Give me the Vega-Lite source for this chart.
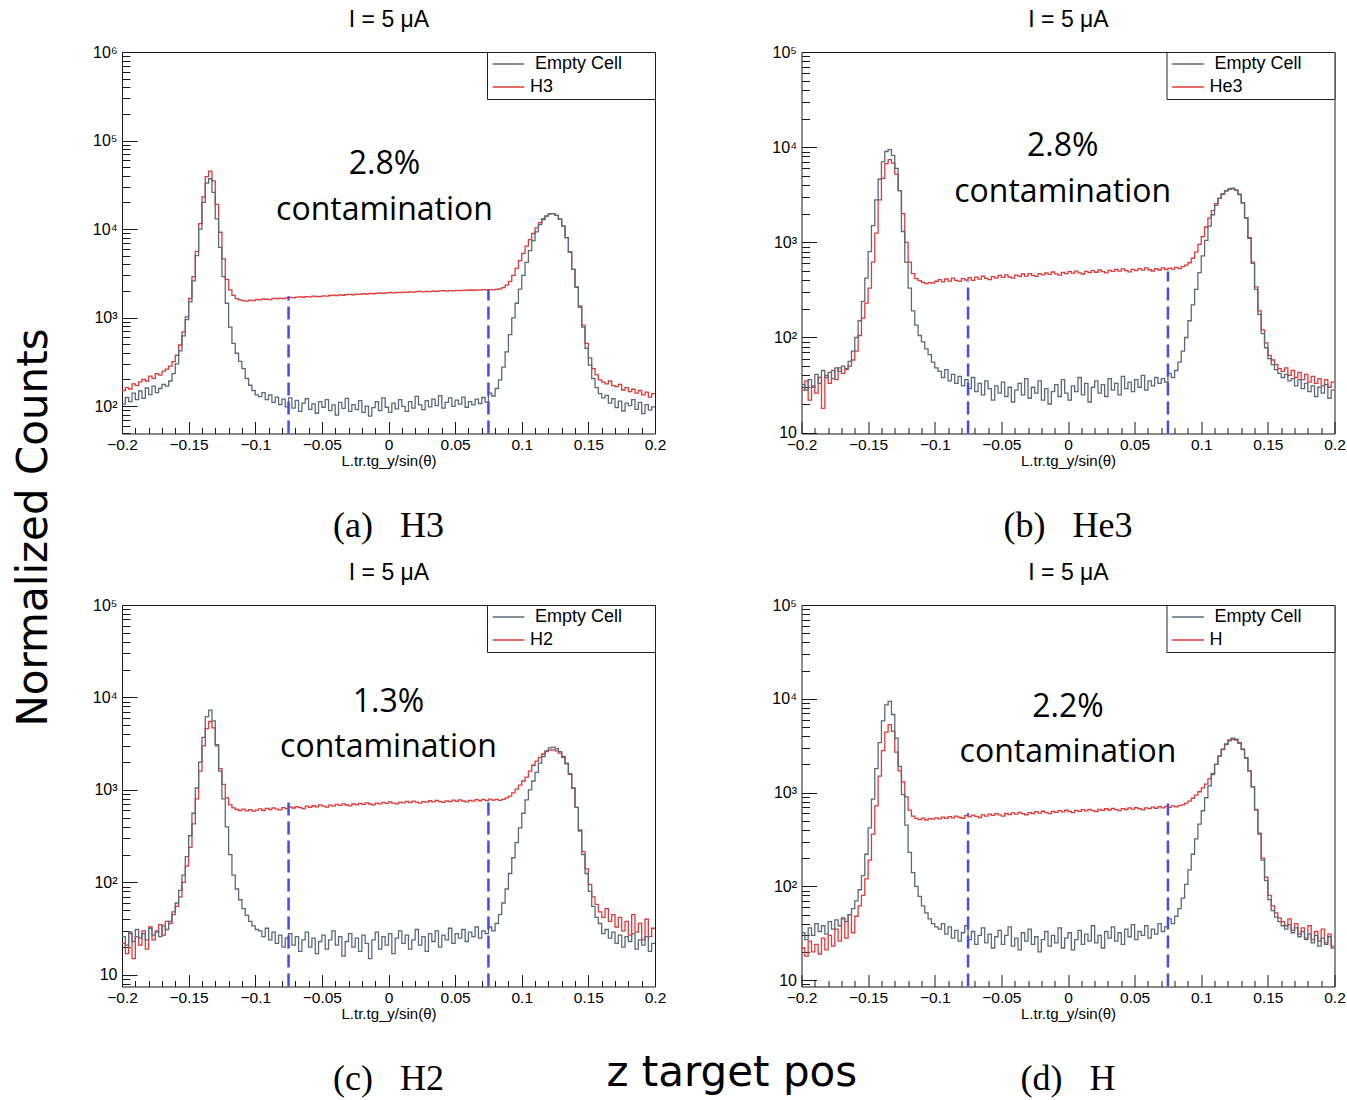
{
  "$schema": "https://vega.github.io/schema/vega-lite/v6.json",
  "background": "white",
  "padding": {"left": 12, "top": 7, "right": 0, "bottom": 0},
  "config": {
    "font": "Liberation Sans",
    "view": {"stroke": "#1a1a1a", "strokeWidth": 1},
    "axis": {"domain": false, "grid": false, "labelFont": "Liberation Sans", "titleFont": "Liberation Sans", "labelColor": "#000", "titleColor": "#000", "tickColor": "#1a1a1a", "tickWidth": 1, "titleFontWeight": "normal"},
    "title": {"fontWeight": "normal", "color": "#000"},
    "legend": {
      "orient": "top-right", "offset": 0, "padding": 2,
      "strokeColor": "#222", "strokeWidth": 1, "fillColor": "white",
      "symbolType": "stroke", "symbolSize": 1000, "symbolStrokeWidth": 1.3, "symbolOffset": 3,
      "labelFont": "Liberation Sans", "labelFontSize": 18, "labelColor": "#000", "labelOffset": 5,
      "rowPadding": 3, "clipHeight": 20
    }
  },
  "datasets": {
    "hist": [
      {"x":-0.2,"ae":105,"at":150,"be":32,"bt":28,"ce":26,"ct":22,"de":32,"dt":22},
      {"x":-0.1975,"ae":125,"at":162,"be":28,"bt":35,"ce":21,"ct":17,"de":27,"dt":18},
      {"x":-0.195,"ae":112,"at":156,"be":36,"bt":22,"ce":29,"ct":28,"de":36,"dt":26},
      {"x":-0.1925,"ae":140,"at":178,"be":30,"bt":31,"ce":23,"ct":15,"de":30,"dt":20},
      {"x":-0.19,"ae":118,"at":170,"be":41,"bt":26,"ce":31,"ct":26,"de":40,"dt":24},
      {"x":-0.1875,"ae":148,"at":188,"be":33,"bt":38,"ce":25,"ct":21,"de":33,"dt":19},
      {"x":-0.185,"ae":122,"at":200,"be":45,"bt":18,"ce":28,"ct":30,"de":38,"dt":28},
      {"x":-0.1825,"ae":160,"at":192,"be":38,"bt":40,"ce":24,"ct":19,"de":31,"dt":21},
      {"x":-0.18,"ae":135,"at":218,"be":43,"bt":33,"ce":32,"ct":33,"de":42,"dt":30},
      {"x":-0.1775,"ae":168,"at":206,"be":37,"bt":45,"ce":27,"ct":24,"de":35,"dt":23},
      {"x":-0.175,"ae":142,"at":232,"be":48,"bt":36,"ce":30,"ct":29,"de":44,"dt":35},
      {"x":-0.1725,"ae":158,"at":224,"be":44,"bt":48,"ce":26,"ct":35,"de":38,"dt":26},
      {"x":-0.17,"ae":176,"at":248,"be":50,"bt":42,"ce":34,"ct":27,"de":46,"dt":45},
      {"x":-0.1675,"ae":168,"at":262,"be":47,"bt":46,"ce":31,"ct":38,"de":42,"dt":28},
      {"x":-0.165,"ae":192,"at":282,"be":56,"bt":50,"ce":38,"ct":36,"de":50,"dt":50},
      {"x":-0.1625,"ae":232,"at":318,"be":72,"bt":58,"ce":48,"ct":45,"de":58,"dt":32},
      {"x":-0.16,"ae":300,"at":375,"be":100,"bt":72,"ce":60,"ct":55,"de":70,"dt":48},
      {"x":-0.1575,"ae":420,"at":490,"be":150,"bt":105,"ce":82,"ct":70,"de":92,"dt":62},
      {"x":-0.155,"ae":620,"at":690,"be":240,"bt":160,"ce":120,"ct":100,"de":130,"dt":80},
      {"x":-0.1525,"ae":950,"at":1020,"be":420,"bt":230,"ce":190,"ct":150,"de":220,"dt":120},
      {"x":-0.15,"ae":1500,"at":1650,"be":800,"bt":330,"ce":320,"ct":240,"de":420,"dt":190},
      {"x":-0.1475,"ae":2600,"at":2900,"be":1500,"bt":620,"ce":560,"ct":430,"de":850,"dt":360},
      {"x":-0.145,"ae":5000,"at":5600,"be":2800,"bt":1250,"ce":1050,"ct":800,"de":1800,"dt":720},
      {"x":-0.1425,"ae":10000,"at":11500,"be":4600,"bt":2800,"ce":2000,"ct":1600,"de":3400,"dt":1500},
      {"x":-0.14,"ae":20000,"at":23000,"be":7000,"bt":4700,"ce":3700,"ct":3000,"de":5800,"dt":2800},
      {"x":-0.1375,"ae":33000,"at":39000,"be":9000,"bt":6700,"ce":6200,"ct":4600,"de":8600,"dt":4400},
      {"x":-0.135,"ae":37000,"at":45000,"be":9400,"bt":7400,"ce":7300,"ct":5500,"de":9400,"dt":5300},
      {"x":-0.1325,"ae":26000,"at":35000,"be":8200,"bt":6800,"ce":5600,"ct":4700,"de":6800,"dt":4500},
      {"x":-0.13,"ae":13000,"at":19000,"be":6000,"bt":5200,"ce":3100,"ct":3000,"de":3800,"dt":2700},
      {"x":-0.1275,"ae":6200,"at":9200,"be":3500,"bt":3500,"ce":1600,"ct":1700,"de":1900,"dt":1700},
      {"x":-0.125,"ae":2900,"at":4600,"be":1300,"bt":2000,"ce":800,"ct":1150,"de":950,"dt":1300},
      {"x":-0.1225,"ae":1450,"at":2700,"be":620,"bt":1000,"ce":400,"ct":820,"de":450,"dt":900},
      {"x":-0.12,"ae":780,"at":2050,"be":330,"bt":620,"ce":200,"ct":690,"de":230,"dt":650},
      {"x":-0.1175,"ae":510,"at":1780,"be":190,"bt":470,"ce":120,"ct":640,"de":140,"dt":560},
      {"x":-0.115,"ae":395,"at":1640,"be":135,"bt":415,"ce":85,"ct":615,"de":100,"dt":530},
      {"x":-0.1125,"ae":320,"at":1580,"be":105,"bt":395,"ce":65,"ct":600,"de":78,"dt":515},
      {"x":-0.11,"ae":265,"at":1545,"be":90,"bt":380,"ce":52,"ct":620,"de":62,"dt":535},
      {"x":-0.1075,"ae":205,"at":1530,"be":76,"bt":368,"ce":44,"ct":595,"de":52,"dt":510},
      {"x":-0.105,"ae":172,"at":1575,"be":66,"bt":378,"ce":38,"ct":612,"de":45,"dt":528},
      {"x":-0.1025,"ae":150,"at":1555,"be":55,"bt":372,"ce":34,"ct":590,"de":40,"dt":520},
      {"x":-0.1,"ae":134,"at":1600,"be":48,"bt":390,"ce":31,"ct":605,"de":37,"dt":538},
      {"x":-0.0975,"ae":128,"at":1588,"be":44,"bt":405,"ce":30,"ct":625,"de":35,"dt":525},
      {"x":-0.095,"ae":142,"at":1622,"be":38,"bt":385,"ce":26,"ct":600,"de":40,"dt":548},
      {"x":-0.0925,"ae":118,"at":1610,"be":46,"bt":412,"ce":32,"ct":632,"de":31,"dt":530},
      {"x":-0.09,"ae":134,"at":1598,"be":35,"bt":392,"ce":24,"ct":615,"de":37,"dt":555},
      {"x":-0.0875,"ae":110,"at":1645,"be":41,"bt":420,"ce":29,"ct":640,"de":28,"dt":538},
      {"x":-0.085,"ae":126,"at":1630,"be":33,"bt":398,"ce":22,"ct":622,"de":34,"dt":562},
      {"x":-0.0825,"ae":104,"at":1662,"be":39,"bt":388,"ce":27,"ct":608,"de":26,"dt":545},
      {"x":-0.08,"ae":120,"at":1640,"be":31,"bt":415,"ce":20,"ct":645,"de":32,"dt":532},
      {"x":-0.0775,"ae":98,"at":1668,"be":36,"bt":402,"ce":25,"ct":630,"de":38,"dt":568},
      {"x":-0.075,"ae":124,"at":1690,"be":29,"bt":425,"ce":28,"ct":655,"de":27,"dt":550},
      {"x":-0.0725,"ae":95,"at":1672,"be":38,"bt":398,"ce":21,"ct":638,"de":33,"dt":575},
      {"x":-0.07,"ae":116,"at":1700,"be":27,"bt":430,"ce":26,"ct":662,"de":24,"dt":558},
      {"x":-0.0675,"ae":87,"at":1712,"be":33,"bt":410,"ce":18,"ct":645,"de":30,"dt":542},
      {"x":-0.065,"ae":108,"at":1695,"be":25,"bt":440,"ce":24,"ct":630,"de":36,"dt":578},
      {"x":-0.0625,"ae":121,"at":1728,"be":35,"bt":418,"ce":29,"ct":668,"de":25,"dt":562},
      {"x":-0.06,"ae":92,"at":1716,"be":29,"bt":405,"ce":20,"ct":650,"de":31,"dt":590},
      {"x":-0.0575,"ae":106,"at":1745,"be":22,"bt":436,"ce":25,"ct":675,"de":22,"dt":570},
      {"x":-0.055,"ae":83,"at":1730,"be":31,"bt":420,"ce":17,"ct":658,"de":29,"dt":596},
      {"x":-0.0525,"ae":112,"at":1722,"be":26,"bt":448,"ce":23,"ct":690,"de":34,"dt":578},
      {"x":-0.05,"ae":97,"at":1760,"be":34,"bt":428,"ce":27,"ct":668,"de":24,"dt":562},
      {"x":-0.0475,"ae":118,"at":1748,"be":24,"bt":455,"ce":19,"ct":652,"de":30,"dt":598},
      {"x":-0.045,"ae":89,"at":1775,"be":30,"bt":432,"ce":24,"ct":685,"de":37,"dt":582},
      {"x":-0.0425,"ae":103,"at":1790,"be":21,"bt":420,"ce":30,"ct":670,"de":23,"dt":608},
      {"x":-0.04,"ae":79,"at":1770,"be":28,"bt":452,"ce":21,"ct":700,"de":28,"dt":588},
      {"x":-0.0375,"ae":110,"at":1802,"be":33,"bt":438,"ce":26,"ct":680,"de":21,"dt":615},
      {"x":-0.035,"ae":94,"at":1786,"be":25,"bt":465,"ce":16,"ct":708,"de":32,"dt":595},
      {"x":-0.0325,"ae":122,"at":1815,"be":37,"bt":442,"ce":23,"ct":688,"de":26,"dt":580},
      {"x":-0.03,"ae":87,"at":1830,"be":23,"bt":470,"ce":28,"ct":672,"de":35,"dt":612},
      {"x":-0.0275,"ae":104,"at":1808,"be":30,"bt":450,"ce":20,"ct":705,"de":24,"dt":598},
      {"x":-0.025,"ae":91,"at":1842,"be":26,"bt":438,"ce":25,"ct":690,"de":29,"dt":625},
      {"x":-0.0225,"ae":115,"at":1826,"be":35,"bt":468,"ce":18,"ct":718,"de":20,"dt":605},
      {"x":-0.02,"ae":85,"at":1860,"be":22,"bt":455,"ce":27,"ct":698,"de":27,"dt":632},
      {"x":-0.0175,"ae":100,"at":1845,"be":29,"bt":478,"ce":22,"ct":725,"de":33,"dt":612},
      {"x":-0.015,"ae":77,"at":1872,"be":20,"bt":460,"ce":15,"ct":705,"de":23,"dt":596},
      {"x":-0.0125,"ae":96,"at":1858,"be":27,"bt":488,"ce":24,"ct":690,"de":30,"dt":628},
      {"x":-0.01,"ae":112,"at":1880,"be":32,"bt":466,"ce":29,"ct":722,"de":25,"dt":615},
      {"x":-0.0075,"ae":89,"at":1898,"be":24,"bt":452,"ce":19,"ct":708,"de":36,"dt":642},
      {"x":-0.005,"ae":124,"at":1875,"be":36,"bt":482,"ce":26,"ct":735,"de":22,"dt":622},
      {"x":-0.0025,"ae":97,"at":1905,"be":26,"bt":470,"ce":21,"ct":715,"de":28,"dt":648},
      {"x":0,"ae":85,"at":1918,"be":22,"bt":492,"ce":28,"ct":742,"de":32,"dt":628},
      {"x":0.0025,"ae":108,"at":1896,"be":31,"bt":475,"ce":17,"ct":722,"de":21,"dt":612},
      {"x":0.005,"ae":93,"at":1925,"be":27,"bt":498,"ce":25,"ct":708,"de":27,"dt":645},
      {"x":0.0075,"ae":118,"at":1912,"be":38,"bt":478,"ce":30,"ct":738,"de":34,"dt":630},
      {"x":0.01,"ae":99,"at":1940,"be":25,"bt":465,"ce":22,"ct":725,"de":24,"dt":658},
      {"x":0.0125,"ae":87,"at":1928,"be":33,"bt":495,"ce":27,"ct":752,"de":31,"dt":638},
      {"x":0.015,"ae":112,"at":1950,"be":21,"bt":480,"ce":19,"ct":730,"de":26,"dt":662},
      {"x":0.0175,"ae":95,"at":1935,"be":30,"bt":505,"ce":24,"ct":758,"de":38,"dt":642},
      {"x":0.02,"ae":129,"at":1962,"be":35,"bt":485,"ce":31,"ct":738,"de":25,"dt":628},
      {"x":0.0225,"ae":103,"at":1975,"be":26,"bt":512,"ce":21,"ct":722,"de":30,"dt":660},
      {"x":0.025,"ae":91,"at":1952,"be":32,"bt":492,"ce":26,"ct":750,"de":22,"dt":645},
      {"x":0.0275,"ae":115,"at":1980,"be":24,"bt":478,"ce":18,"ct":738,"de":33,"dt":672},
      {"x":0.03,"ae":98,"at":1968,"be":37,"bt":508,"ce":28,"ct":765,"de":28,"dt":652},
      {"x":0.0325,"ae":120,"at":1992,"be":28,"bt":495,"ce":23,"ct":742,"de":37,"dt":678},
      {"x":0.035,"ae":101,"at":1978,"be":33,"bt":518,"ce":30,"ct":770,"de":26,"dt":658},
      {"x":0.0375,"ae":131,"at":2000,"be":25,"bt":498,"ce":20,"ct":750,"de":32,"dt":642},
      {"x":0.04,"ae":95,"at":2012,"be":39,"bt":525,"ce":27,"ct":735,"de":24,"dt":675},
      {"x":0.0425,"ae":110,"at":1990,"be":29,"bt":505,"ce":24,"ct":762,"de":35,"dt":660},
      {"x":0.045,"ae":124,"at":2018,"be":34,"bt":490,"ce":32,"ct":748,"de":29,"dt":688},
      {"x":0.0475,"ae":99,"at":2005,"be":27,"bt":520,"ce":22,"ct":775,"de":39,"dt":665},
      {"x":0.05,"ae":117,"at":2030,"be":36,"bt":505,"ce":28,"ct":755,"de":27,"dt":692},
      {"x":0.0525,"ae":105,"at":2015,"be":30,"bt":530,"ce":25,"ct":780,"de":33,"dt":672},
      {"x":0.055,"ae":126,"at":2040,"be":40,"bt":510,"ce":31,"ct":760,"de":30,"dt":655},
      {"x":0.0575,"ae":97,"at":2026,"be":28,"bt":538,"ce":23,"ct":745,"de":38,"dt":688},
      {"x":0.06,"ae":112,"at":2048,"be":35,"bt":515,"ce":29,"ct":772,"de":28,"dt":675},
      {"x":0.0625,"ae":103,"at":2035,"be":31,"bt":500,"ce":26,"ct":758,"de":35,"dt":700},
      {"x":0.065,"ae":120,"at":2058,"be":38,"bt":528,"ce":33,"ct":785,"de":31,"dt":680},
      {"x":0.0675,"ae":107,"at":2042,"be":33,"bt":512,"ce":25,"ct":765,"de":40,"dt":708},
      {"x":0.07,"ae":125,"at":2066,"be":37,"bt":540,"ce":30,"ct":790,"de":33,"dt":688},
      {"x":0.0725,"ae":111,"at":2050,"be":34,"bt":518,"ce":28,"ct":768,"de":37,"dt":712},
      {"x":0.075,"ae":140,"at":2072,"be":42,"bt":535,"ce":33,"ct":795,"de":45,"dt":695},
      {"x":0.0775,"ae":130,"at":2058,"be":38,"bt":522,"ce":30,"ct":775,"de":40,"dt":720},
      {"x":0.08,"ae":158,"at":2085,"be":45,"bt":545,"ce":36,"ct":790,"de":48,"dt":702},
      {"x":0.0825,"ae":198,"at":2110,"be":55,"bt":530,"ce":45,"ct":770,"de":58,"dt":725},
      {"x":0.085,"ae":275,"at":2180,"be":72,"bt":555,"ce":60,"ct":790,"de":75,"dt":740},
      {"x":0.0875,"ae":410,"at":2320,"be":100,"bt":575,"ce":85,"ct":820,"de":105,"dt":770},
      {"x":0.09,"ae":640,"at":2560,"be":150,"bt":610,"ce":125,"ct":860,"de":150,"dt":810},
      {"x":0.0925,"ae":990,"at":3000,"be":220,"bt":680,"ce":185,"ct":930,"de":220,"dt":870},
      {"x":0.095,"ae":1450,"at":3600,"be":320,"bt":790,"ce":270,"ct":1020,"de":320,"dt":940},
      {"x":0.0975,"ae":2100,"at":4400,"be":480,"bt":950,"ce":390,"ct":1130,"de":460,"dt":1020},
      {"x":0.1,"ae":3000,"at":5300,"be":720,"bt":1150,"ce":560,"ct":1250,"de":640,"dt":1120},
      {"x":0.1025,"ae":4200,"at":6400,"be":1050,"bt":1450,"ce":780,"ct":1380,"de":880,"dt":1230},
      {"x":0.105,"ae":5700,"at":7600,"be":1480,"bt":1800,"ce":1000,"ct":1600,"de":1180,"dt":1400},
      {"x":0.1075,"ae":7400,"at":8900,"be":1950,"bt":2150,"ce":1250,"ct":1850,"de":1550,"dt":1600},
      {"x":0.11,"ae":9300,"at":10300,"be":2450,"bt":2550,"ce":1550,"ct":2050,"de":2000,"dt":2000},
      {"x":0.1125,"ae":11200,"at":11800,"be":2900,"bt":2900,"ce":1950,"ct":2250,"de":2450,"dt":2450},
      {"x":0.115,"ae":12800,"at":13100,"be":3250,"bt":3200,"ce":2300,"ct":2450,"de":2900,"dt":2880},
      {"x":0.1175,"ae":14000,"at":14100,"be":3500,"bt":3450,"ce":2650,"ct":2600,"de":3300,"dt":3250},
      {"x":0.12,"ae":14800,"at":14800,"be":3650,"bt":3600,"ce":2850,"ct":2700,"de":3650,"dt":3550},
      {"x":0.1225,"ae":14900,"at":14900,"be":3700,"bt":3650,"ce":2900,"ct":2720,"de":3800,"dt":3700},
      {"x":0.125,"ae":14300,"at":14300,"be":3550,"bt":3520,"ce":2800,"ct":2650,"de":3700,"dt":3620},
      {"x":0.1275,"ae":12900,"at":12900,"be":3200,"bt":3180,"ce":2600,"ct":2500,"de":3400,"dt":3350},
      {"x":0.13,"ae":10800,"at":10800,"be":2600,"bt":2600,"ce":2300,"ct":2250,"de":2900,"dt":2880},
      {"x":0.1325,"ae":8000,"at":8000,"be":1800,"bt":1820,"ce":1950,"ct":1920,"de":2350,"dt":2330},
      {"x":0.135,"ae":5500,"at":5500,"be":1100,"bt":1120,"ce":1500,"ct":1480,"de":1700,"dt":1700},
      {"x":0.1375,"ae":3500,"at":3500,"be":600,"bt":620,"ce":1050,"ct":1040,"de":1150,"dt":1150},
      {"x":0.14,"ae":2200,"at":2200,"be":320,"bt":340,"ce":650,"ct":650,"de":650,"dt":660},
      {"x":0.1425,"ae":1300,"at":1350,"be":175,"bt":190,"ce":360,"ct":370,"de":360,"dt":370},
      {"x":0.145,"ae":780,"at":820,"be":110,"bt":120,"ce":200,"ct":215,"de":190,"dt":200},
      {"x":0.1475,"ae":450,"at":510,"be":78,"bt":88,"ce":125,"ct":140,"de":115,"dt":125},
      {"x":0.15,"ae":290,"at":350,"be":60,"bt":65,"ce":80,"ct":95,"de":72,"dt":80},
      {"x":0.1525,"ae":205,"at":265,"be":52,"bt":58,"ce":55,"ct":70,"de":55,"dt":62},
      {"x":0.155,"ae":162,"at":225,"be":46,"bt":52,"ce":42,"ct":58,"de":47,"dt":52},
      {"x":0.1575,"ae":138,"at":198,"be":42,"bt":47,"ce":36,"ct":48,"de":42,"dt":46},
      {"x":0.16,"ae":124,"at":186,"be":38,"bt":44,"ce":28,"ct":42,"de":38,"dt":42},
      {"x":0.1625,"ae":132,"at":178,"be":41,"bt":48,"ce":31,"ct":52,"de":35,"dt":38},
      {"x":0.165,"ae":108,"at":192,"be":35,"bt":40,"ce":25,"ct":38,"de":39,"dt":45},
      {"x":0.1675,"ae":121,"at":170,"be":37,"bt":45,"ce":29,"ct":45,"de":32,"dt":34},
      {"x":0.17,"ae":96,"at":166,"be":31,"bt":38,"ce":22,"ct":33,"de":36,"dt":40},
      {"x":0.1725,"ae":114,"at":176,"be":36,"bt":43,"ce":27,"ct":42,"de":29,"dt":31},
      {"x":0.175,"ae":88,"at":152,"be":29,"bt":36,"ce":20,"ct":30,"de":33,"dt":36},
      {"x":0.1775,"ae":108,"at":162,"be":33,"bt":41,"ce":26,"ct":38,"de":27,"dt":28},
      {"x":0.18,"ae":101,"at":146,"be":27,"bt":34,"ce":23,"ct":27,"de":31,"dt":38},
      {"x":0.1825,"ae":118,"at":155,"be":31,"bt":39,"ce":28,"ct":45,"de":25,"dt":27},
      {"x":0.185,"ae":92,"at":140,"be":24,"bt":33,"ce":19,"ct":29,"de":30,"dt":33},
      {"x":0.1875,"ae":110,"at":150,"be":30,"bt":37,"ce":24,"ct":36,"de":23,"dt":26},
      {"x":0.19,"ae":82,"at":134,"be":26,"bt":31,"ce":21,"ct":24,"de":28,"dt":35},
      {"x":0.1925,"ae":104,"at":144,"be":32,"bt":36,"ce":26,"ct":40,"de":24,"dt":25},
      {"x":0.195,"ae":90,"at":126,"be":23,"bt":30,"ce":18,"ct":26,"de":29,"dt":31},
      {"x":0.1975,"ae":98,"at":138,"be":28,"bt":34,"ce":22,"ct":32,"de":22,"dt":23},
      {"x":0.2,"ae":98,"at":138,"be":28,"bt":34,"ce":22,"ct":32,"de":22,"dt":23}
    ],
    "notes": [
      {"p":"a","x":-0.003,"y":55000,"label":"2.8%"},
      {"p":"a","x":-0.003,"y":16300,"label":"contamination"},
      {"p":"b","x":-0.004,"y":10300,"label":"2.8%"},
      {"p":"b","x":-0.004,"y":3360,"label":"contamination"},
      {"p":"c","x":0.0,"y":8840,"label":"1.3%"},
      {"p":"c","x":0.0,"y":2900,"label":"contamination"},
      {"p":"d","x":0.0,"y":8220,"label":"2.2%"},
      {"p":"d","x":0.0,"y":2730,"label":"contamination"}
    ],
    "cuts": [
      {"p":"a","x":-0.075,"lo":49,"hi":1740},
      {"p":"a","x":0.075,"lo":49,"hi":2090},
      {"p":"b","x":-0.075,"lo":9.8,"hi":395},
      {"p":"b","x":0.075,"lo":9.8,"hi":495},
      {"p":"c","x":-0.075,"lo":7.5,"hi":820},
      {"p":"c","x":0.075,"lo":7.5,"hi":830},
      {"p":"d","x":-0.075,"lo":8.55,"hi":600},
      {"p":"d","x":0.075,"lo":8.55,"hi":764}
    ]
  },
  "title": {"text": "Normalized Counts", "orient": "left", "anchor": "middle", "font": "DejaVu Sans", "fontSize": 42, "fontWeight": "normal", "offset": 36, "dx": 25},
  "vconcat": [
    {
      "title": {"text": "z target pos", "orient": "bottom", "anchor": "middle", "font": "DejaVu Sans", "fontSize": 42, "fontWeight": "normal", "offset": -45, "dx": 13},
      "columns": 2,
      "spacing": {"row": 171, "column": 146.5},
      "bounds": "flush",
      "resolve": {"scale": {"color": "independent"}, "legend": {"color": "independent"}},
      "concat": [
        {
          "width": 533, "height": 381.5,
          "title": {"text": "(a)\u00a0\u00a0\u00a0H3", "orient": "bottom", "anchor": "middle", "frame": "group", "font": "Liberation Serif", "fontSize": 36, "offset": 41},
          "resolve": {"axis": {"x": "independent"}},
          "layer": [
            {
              "data": {"name": "hist"},
              "mark": {"type": "line", "interpolate": "step-after", "strokeWidth": 1.3, "clip": true},
              "encoding": {
                "x": {"field": "x", "type": "quantitative", "scale": {"domain": [-0.2, 0.2], "nice": false, "zero": false},
                  "axis": {"orient": "bottom", "values": [-0.2,-0.19,-0.18,-0.17,-0.16,-0.15,-0.14,-0.13,-0.12,-0.11,-0.1,-0.09,-0.08,-0.07,-0.06,-0.05,-0.04,-0.03,-0.02,-0.01,0,0.01,0.02,0.03,0.04,0.05,0.06,0.07,0.08,0.09,0.1,0.11,0.12,0.13,0.14,0.15,0.16,0.17,0.18,0.19,0.2],
                    "labelExpr": "abs(datum.value*20-round(datum.value*20))<0.001 ? format(datum.value,'~g') : ''",
                    "tickSize": {"condition": {"test": "abs(datum.value*20-round(datum.value*20))<0.001", "value": -12}, "value": -6},
                    "labelPadding": 16, "labelFontSize": 15.5, "labelOverlap": false, "labelFlush": false, "labelBound": false,
                    "title": "L.tr.tg_y/sin(θ)", "titleFontSize": 15, "titlePadding": -6}},
                "y": {"field": "at", "type": "quantitative", "scale": {"type": "log", "domain": [49, 1000000], "nice": false},
                  "axis": {"values": [50,60,70,80,90,100,200,300,400,500,600,700,800,900,1000,2000,3000,4000,5000,6000,7000,8000,9000,10000,20000,30000,40000,50000,60000,70000,80000,90000,100000,200000,300000,400000,500000,600000,700000,800000,900000,1000000],
                    "labelExpr": "datum.value==10?'10':datum.value==100?'10²':datum.value==1000?'10³':datum.value==10000?'10⁴':datum.value==100000?'10⁵':datum.value==1000000?'10⁶':''",
                    "tickSize": {"condition": {"test": "datum.value==10||datum.value==100||datum.value==1000||datum.value==10000||datum.value==100000||datum.value==1000000", "value": -15}, "value": -8},
                    "labelPadding": 20, "labelFontSize": 16, "labelOverlap": false, "labelFlush": false, "labelBound": false, "title": null}},
                "color": {"datum": "H3", "scale": {"domain": ["Empty Cell", "H3"], "range": ["#5b6a7a", "#e03a3a"]},
                  "legend": {"title": null, "labelExpr": "datum.label == 'Empty Cell' ? '\u200b\u00a0Empty Cell\u00a0\u00a0\u00a0\u00a0\u00a0\u00a0\u200b' : datum.label"}}
              }
            },
            {
              "data": {"name": "hist"},
              "mark": {"type": "line", "interpolate": "step-after", "strokeWidth": 1.3, "clip": true, "color": "#5b6a7a"},
              "encoding": {
                "x": {"field": "x", "type": "quantitative", "axis": null},
                "y": {"field": "ae", "type": "quantitative"}
              }
            },
            {
              "data": {"name": "cuts"},
              "transform": [{"filter": "datum.p == 'a'"}],
              "mark": {"type": "rule", "color": "#4a4ae6", "strokeWidth": 2.5, "strokeDash": [13, 6]},
              "encoding": {
                "x": {"field": "x", "type": "quantitative", "axis": null},
                "y": {"field": "lo", "type": "quantitative"},
                "y2": {"field": "hi"}
              }
            },
            {
              "data": {"name": "notes"},
              "transform": [{"filter": "datum.p == 'a'"}],
              "mark": {"type": "text", "font": "Open Sans", "fontSize": 32, "color": "#000", "align": "center", "baseline": "middle"},
              "encoding": {
                "x": {"field": "x", "type": "quantitative", "axis": {"orient": "top", "title": "I = 5 μA", "labels": false, "ticks": false, "domain": false, "titleFontSize": 23, "titlePadding": 21}},
                "y": {"field": "y", "type": "quantitative"},
                "text": {"field": "label"}
              }
            }
          ]
        },
        {
          "width": 533, "height": 381.5,
          "title": {"text": "(b)\u00a0\u00a0\u00a0He3", "orient": "bottom", "anchor": "middle", "frame": "group", "font": "Liberation Serif", "fontSize": 36, "offset": 41},
          "resolve": {"axis": {"x": "independent"}},
          "layer": [
            {
              "data": {"name": "hist"},
              "mark": {"type": "line", "interpolate": "step-after", "strokeWidth": 1.3, "clip": true},
              "encoding": {
                "x": {"field": "x", "type": "quantitative", "scale": {"domain": [-0.2, 0.2], "nice": false, "zero": false},
                  "axis": {"orient": "bottom", "values": [-0.2,-0.19,-0.18,-0.17,-0.16,-0.15,-0.14,-0.13,-0.12,-0.11,-0.1,-0.09,-0.08,-0.07,-0.06,-0.05,-0.04,-0.03,-0.02,-0.01,0,0.01,0.02,0.03,0.04,0.05,0.06,0.07,0.08,0.09,0.1,0.11,0.12,0.13,0.14,0.15,0.16,0.17,0.18,0.19,0.2],
                    "labelExpr": "abs(datum.value*20-round(datum.value*20))<0.001 ? format(datum.value,'~g') : ''",
                    "tickSize": {"condition": {"test": "abs(datum.value*20-round(datum.value*20))<0.001", "value": -12}, "value": -6},
                    "labelPadding": 16, "labelFontSize": 15.5, "labelOverlap": false, "labelFlush": false, "labelBound": false,
                    "title": "L.tr.tg_y/sin(θ)", "titleFontSize": 15, "titlePadding": -6}},
                "y": {"field": "bt", "type": "quantitative", "scale": {"type": "log", "domain": [9.8, 100000], "nice": false},
                  "axis": {"values": [10,20,30,40,50,60,70,80,90,100,200,300,400,500,600,700,800,900,1000,2000,3000,4000,5000,6000,7000,8000,9000,10000,20000,30000,40000,50000,60000,70000,80000,90000,100000],
                    "labelExpr": "datum.value==10?'10':datum.value==100?'10²':datum.value==1000?'10³':datum.value==10000?'10⁴':datum.value==100000?'10⁵':datum.value==1000000?'10⁶':''",
                    "tickSize": {"condition": {"test": "datum.value==10||datum.value==100||datum.value==1000||datum.value==10000||datum.value==100000||datum.value==1000000", "value": -15}, "value": -8},
                    "labelPadding": 20, "labelFontSize": 16, "labelOverlap": false, "labelFlush": false, "labelBound": false, "title": null}},
                "color": {"datum": "He3", "scale": {"domain": ["Empty Cell", "He3"], "range": ["#5b6a7a", "#e03a3a"]},
                  "legend": {"title": null, "labelExpr": "datum.label == 'Empty Cell' ? '\u200b\u00a0Empty Cell\u00a0\u00a0\u00a0\u00a0\u00a0\u00a0\u200b' : datum.label"}}
              }
            },
            {
              "data": {"name": "hist"},
              "mark": {"type": "line", "interpolate": "step-after", "strokeWidth": 1.3, "clip": true, "color": "#5b6a7a"},
              "encoding": {
                "x": {"field": "x", "type": "quantitative", "axis": null},
                "y": {"field": "be", "type": "quantitative"}
              }
            },
            {
              "data": {"name": "cuts"},
              "transform": [{"filter": "datum.p == 'b'"}],
              "mark": {"type": "rule", "color": "#4a4ae6", "strokeWidth": 2.5, "strokeDash": [13, 6]},
              "encoding": {
                "x": {"field": "x", "type": "quantitative", "axis": null},
                "y": {"field": "lo", "type": "quantitative"},
                "y2": {"field": "hi"}
              }
            },
            {
              "data": {"name": "notes"},
              "transform": [{"filter": "datum.p == 'b'"}],
              "mark": {"type": "text", "font": "Open Sans", "fontSize": 32, "color": "#000", "align": "center", "baseline": "middle"},
              "encoding": {
                "x": {"field": "x", "type": "quantitative", "axis": {"orient": "top", "title": "I = 5 μA", "labels": false, "ticks": false, "domain": false, "titleFontSize": 23, "titlePadding": 21}},
                "y": {"field": "y", "type": "quantitative"},
                "text": {"field": "label"}
              }
            }
          ]
        },
        {
          "width": 533, "height": 381.5,
          "title": {"text": "(c)\u00a0\u00a0\u00a0H2", "orient": "bottom", "anchor": "middle", "frame": "group", "font": "Liberation Serif", "fontSize": 36, "offset": 41},
          "resolve": {"axis": {"x": "independent"}},
          "layer": [
            {
              "data": {"name": "hist"},
              "mark": {"type": "line", "interpolate": "step-after", "strokeWidth": 1.3, "clip": true},
              "encoding": {
                "x": {"field": "x", "type": "quantitative", "scale": {"domain": [-0.2, 0.2], "nice": false, "zero": false},
                  "axis": {"orient": "bottom", "values": [-0.2,-0.19,-0.18,-0.17,-0.16,-0.15,-0.14,-0.13,-0.12,-0.11,-0.1,-0.09,-0.08,-0.07,-0.06,-0.05,-0.04,-0.03,-0.02,-0.01,0,0.01,0.02,0.03,0.04,0.05,0.06,0.07,0.08,0.09,0.1,0.11,0.12,0.13,0.14,0.15,0.16,0.17,0.18,0.19,0.2],
                    "labelExpr": "abs(datum.value*20-round(datum.value*20))<0.001 ? format(datum.value,'~g') : ''",
                    "tickSize": {"condition": {"test": "abs(datum.value*20-round(datum.value*20))<0.001", "value": -12}, "value": -6},
                    "labelPadding": 16, "labelFontSize": 15.5, "labelOverlap": false, "labelFlush": false, "labelBound": false,
                    "title": "L.tr.tg_y/sin(θ)", "titleFontSize": 15, "titlePadding": -6}},
                "y": {"field": "ct", "type": "quantitative", "scale": {"type": "log", "domain": [7.5, 100000], "nice": false},
                  "axis": {"values": [8,9,10,20,30,40,50,60,70,80,90,100,200,300,400,500,600,700,800,900,1000,2000,3000,4000,5000,6000,7000,8000,9000,10000,20000,30000,40000,50000,60000,70000,80000,90000,100000],
                    "labelExpr": "datum.value==10?'10':datum.value==100?'10²':datum.value==1000?'10³':datum.value==10000?'10⁴':datum.value==100000?'10⁵':datum.value==1000000?'10⁶':''",
                    "tickSize": {"condition": {"test": "datum.value==10||datum.value==100||datum.value==1000||datum.value==10000||datum.value==100000||datum.value==1000000", "value": -15}, "value": -8},
                    "labelPadding": 20, "labelFontSize": 16, "labelOverlap": false, "labelFlush": false, "labelBound": false, "title": null}},
                "color": {"datum": "H2", "scale": {"domain": ["Empty Cell", "H2"], "range": ["#5b6a7a", "#e03a3a"]},
                  "legend": {"title": null, "labelExpr": "datum.label == 'Empty Cell' ? '\u200b\u00a0Empty Cell\u00a0\u00a0\u00a0\u00a0\u00a0\u00a0\u200b' : datum.label"}}
              }
            },
            {
              "data": {"name": "hist"},
              "mark": {"type": "line", "interpolate": "step-after", "strokeWidth": 1.3, "clip": true, "color": "#5b6a7a"},
              "encoding": {
                "x": {"field": "x", "type": "quantitative", "axis": null},
                "y": {"field": "ce", "type": "quantitative"}
              }
            },
            {
              "data": {"name": "cuts"},
              "transform": [{"filter": "datum.p == 'c'"}],
              "mark": {"type": "rule", "color": "#4a4ae6", "strokeWidth": 2.5, "strokeDash": [13, 6]},
              "encoding": {
                "x": {"field": "x", "type": "quantitative", "axis": null},
                "y": {"field": "lo", "type": "quantitative"},
                "y2": {"field": "hi"}
              }
            },
            {
              "data": {"name": "notes"},
              "transform": [{"filter": "datum.p == 'c'"}],
              "mark": {"type": "text", "font": "Open Sans", "fontSize": 32, "color": "#000", "align": "center", "baseline": "middle"},
              "encoding": {
                "x": {"field": "x", "type": "quantitative", "axis": {"orient": "top", "title": "I = 5 μA", "labels": false, "ticks": false, "domain": false, "titleFontSize": 23, "titlePadding": 21}},
                "y": {"field": "y", "type": "quantitative"},
                "text": {"field": "label"}
              }
            }
          ]
        },
        {
          "width": 533, "height": 381.5,
          "title": {"text": "(d)\u00a0\u00a0\u00a0H", "orient": "bottom", "anchor": "middle", "frame": "group", "font": "Liberation Serif", "fontSize": 36, "offset": 41},
          "resolve": {"axis": {"x": "independent"}},
          "layer": [
            {
              "data": {"name": "hist"},
              "mark": {"type": "line", "interpolate": "step-after", "strokeWidth": 1.3, "clip": true},
              "encoding": {
                "x": {"field": "x", "type": "quantitative", "scale": {"domain": [-0.2, 0.2], "nice": false, "zero": false},
                  "axis": {"orient": "bottom", "values": [-0.2,-0.19,-0.18,-0.17,-0.16,-0.15,-0.14,-0.13,-0.12,-0.11,-0.1,-0.09,-0.08,-0.07,-0.06,-0.05,-0.04,-0.03,-0.02,-0.01,0,0.01,0.02,0.03,0.04,0.05,0.06,0.07,0.08,0.09,0.1,0.11,0.12,0.13,0.14,0.15,0.16,0.17,0.18,0.19,0.2],
                    "labelExpr": "abs(datum.value*20-round(datum.value*20))<0.001 ? format(datum.value,'~g') : ''",
                    "tickSize": {"condition": {"test": "abs(datum.value*20-round(datum.value*20))<0.001", "value": -12}, "value": -6},
                    "labelPadding": 16, "labelFontSize": 15.5, "labelOverlap": false, "labelFlush": false, "labelBound": false,
                    "title": "L.tr.tg_y/sin(θ)", "titleFontSize": 15, "titlePadding": -6}},
                "y": {"field": "dt", "type": "quantitative", "scale": {"type": "log", "domain": [8.55, 100000], "nice": false},
                  "axis": {"values": [9,10,20,30,40,50,60,70,80,90,100,200,300,400,500,600,700,800,900,1000,2000,3000,4000,5000,6000,7000,8000,9000,10000,20000,30000,40000,50000,60000,70000,80000,90000,100000],
                    "labelExpr": "datum.value==10?'10':datum.value==100?'10²':datum.value==1000?'10³':datum.value==10000?'10⁴':datum.value==100000?'10⁵':datum.value==1000000?'10⁶':''",
                    "tickSize": {"condition": {"test": "datum.value==10||datum.value==100||datum.value==1000||datum.value==10000||datum.value==100000||datum.value==1000000", "value": -15}, "value": -8},
                    "labelPadding": 20, "labelFontSize": 16, "labelOverlap": false, "labelFlush": false, "labelBound": false, "title": null}},
                "color": {"datum": "H", "scale": {"domain": ["Empty Cell", "H"], "range": ["#5b6a7a", "#e03a3a"]},
                  "legend": {"title": null, "labelExpr": "datum.label == 'Empty Cell' ? '\u200b\u00a0Empty Cell\u00a0\u00a0\u00a0\u00a0\u00a0\u00a0\u200b' : datum.label"}}
              }
            },
            {
              "data": {"name": "hist"},
              "mark": {"type": "line", "interpolate": "step-after", "strokeWidth": 1.3, "clip": true, "color": "#5b6a7a"},
              "encoding": {
                "x": {"field": "x", "type": "quantitative", "axis": null},
                "y": {"field": "de", "type": "quantitative"}
              }
            },
            {
              "data": {"name": "cuts"},
              "transform": [{"filter": "datum.p == 'd'"}],
              "mark": {"type": "rule", "color": "#4a4ae6", "strokeWidth": 2.5, "strokeDash": [13, 6]},
              "encoding": {
                "x": {"field": "x", "type": "quantitative", "axis": null},
                "y": {"field": "lo", "type": "quantitative"},
                "y2": {"field": "hi"}
              }
            },
            {
              "data": {"name": "notes"},
              "transform": [{"filter": "datum.p == 'd'"}],
              "mark": {"type": "text", "font": "Open Sans", "fontSize": 32, "color": "#000", "align": "center", "baseline": "middle"},
              "encoding": {
                "x": {"field": "x", "type": "quantitative", "axis": {"orient": "top", "title": "I = 5 μA", "labels": false, "ticks": false, "domain": false, "titleFontSize": 23, "titlePadding": 21}},
                "y": {"field": "y", "type": "quantitative"},
                "text": {"field": "label"}
              }
            }
          ]
        }
      ]
    }
  ]
}
